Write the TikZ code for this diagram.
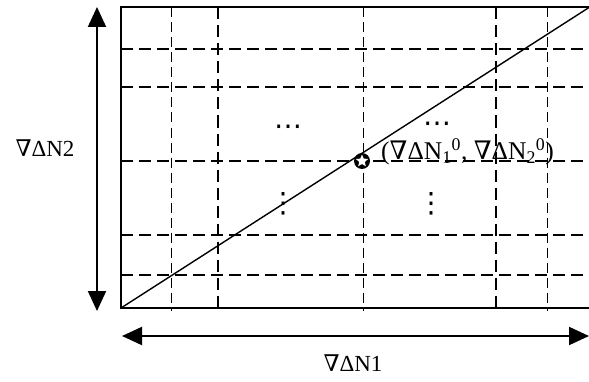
\documentclass[tikz,border=0pt]{standalone}
\usepackage{fontspec}
\setmainfont{Liberation Serif}
\newfontfamily\nablafont{DejaVu Serif}
\newfontfamily\dotfont{DejaVu Sans}
\newcommand\nab{{\nablafont ∇}}
\usetikzlibrary{arrows.meta, shapes.geometric}

\tikzset{
  gridthick/.style={dash pattern=on 12pt off 6pt, line width=1.6pt},
  gridthin/.style={dash pattern=on 10pt off 5pt, line width=0.8pt},
  axisarrow/.style={<->, line width=2pt},
  lbl/.style={font=\fontsize{23}{25}\selectfont, inner sep=0pt},
  dotlbl/.style={font=\dotfont\fontsize{28}{30}\selectfont, inner sep=0pt},
}

\begin{document}
\begin{tikzpicture}[x=1pt, y=1pt, >={Triangle[length=20pt, width=18pt]}]
      \useasboundingbox (0,0) rectangle (589,381);
      % box corners
      \coordinate (bl) at (121,73);
      \coordinate (tl) at (121,373.5);
      \coordinate (br) at (589,73);
      \coordinate (tr) at (589,373.5);
      % dashed grid
      \foreach \gy in {332, 294, 220, 146, 106}
        \draw[gridthick] (121,\gy) -- (589,\gy);
      \foreach \gx in {171, 363, 547}
        \draw[gridthin] (\gx,373.5) -- (\gx,70);
      \foreach \gx in {218, 496}
        \draw[gridthick] (\gx,373.5) -- (\gx,70);
      % frame and diagonal
      \draw[line width=2pt] (br) -- (bl) -- (tl) -- (tr);
      \draw[line width=1.4pt] (bl) -- (tr);
      % axes
      \coordinate (ytop) at (97,374);
      \coordinate (ybot) at (97,70);
      \coordinate (xleft) at (122,45);
      \coordinate (xright) at (589,45);
      \draw[axisarrow] (ybot) -- (ytop);
      \draw[axisarrow] (xleft) -- (xright);
      \node[lbl] (ylab) at (45,233) {\nab ΔN2};
      \node[lbl] (xlab) at (353,18) {\nab ΔN1};
      % start point
      \node[circle, fill=black, minimum size=16pt, inner sep=0pt] (pt0) at (362,220) {};
      \node[star, star points=5, star point ratio=2.2, fill=white, minimum size=13pt, inner sep=0pt] (pt0star) at (pt0) {};
      \node[lbl, font=\fontsize{25.5}{27}\selectfont, anchor=west] (pt0lab) at (381,229) {(\nab ΔN\textsubscript{1}\textsuperscript{0}, \nab ΔN\textsubscript{2}\textsuperscript{0})};
      % dots
      \node[dotlbl] (hdotsl) at (288,251) {⋯};
      \node[dotlbl] (hdotsr) at (437,254) {⋯};
      \node[dotlbl] (vdotsl) at (283,177) {⋮};
      \node[dotlbl] (vdotsr) at (431,177) {⋮};
    \end{tikzpicture}
\end{document}
